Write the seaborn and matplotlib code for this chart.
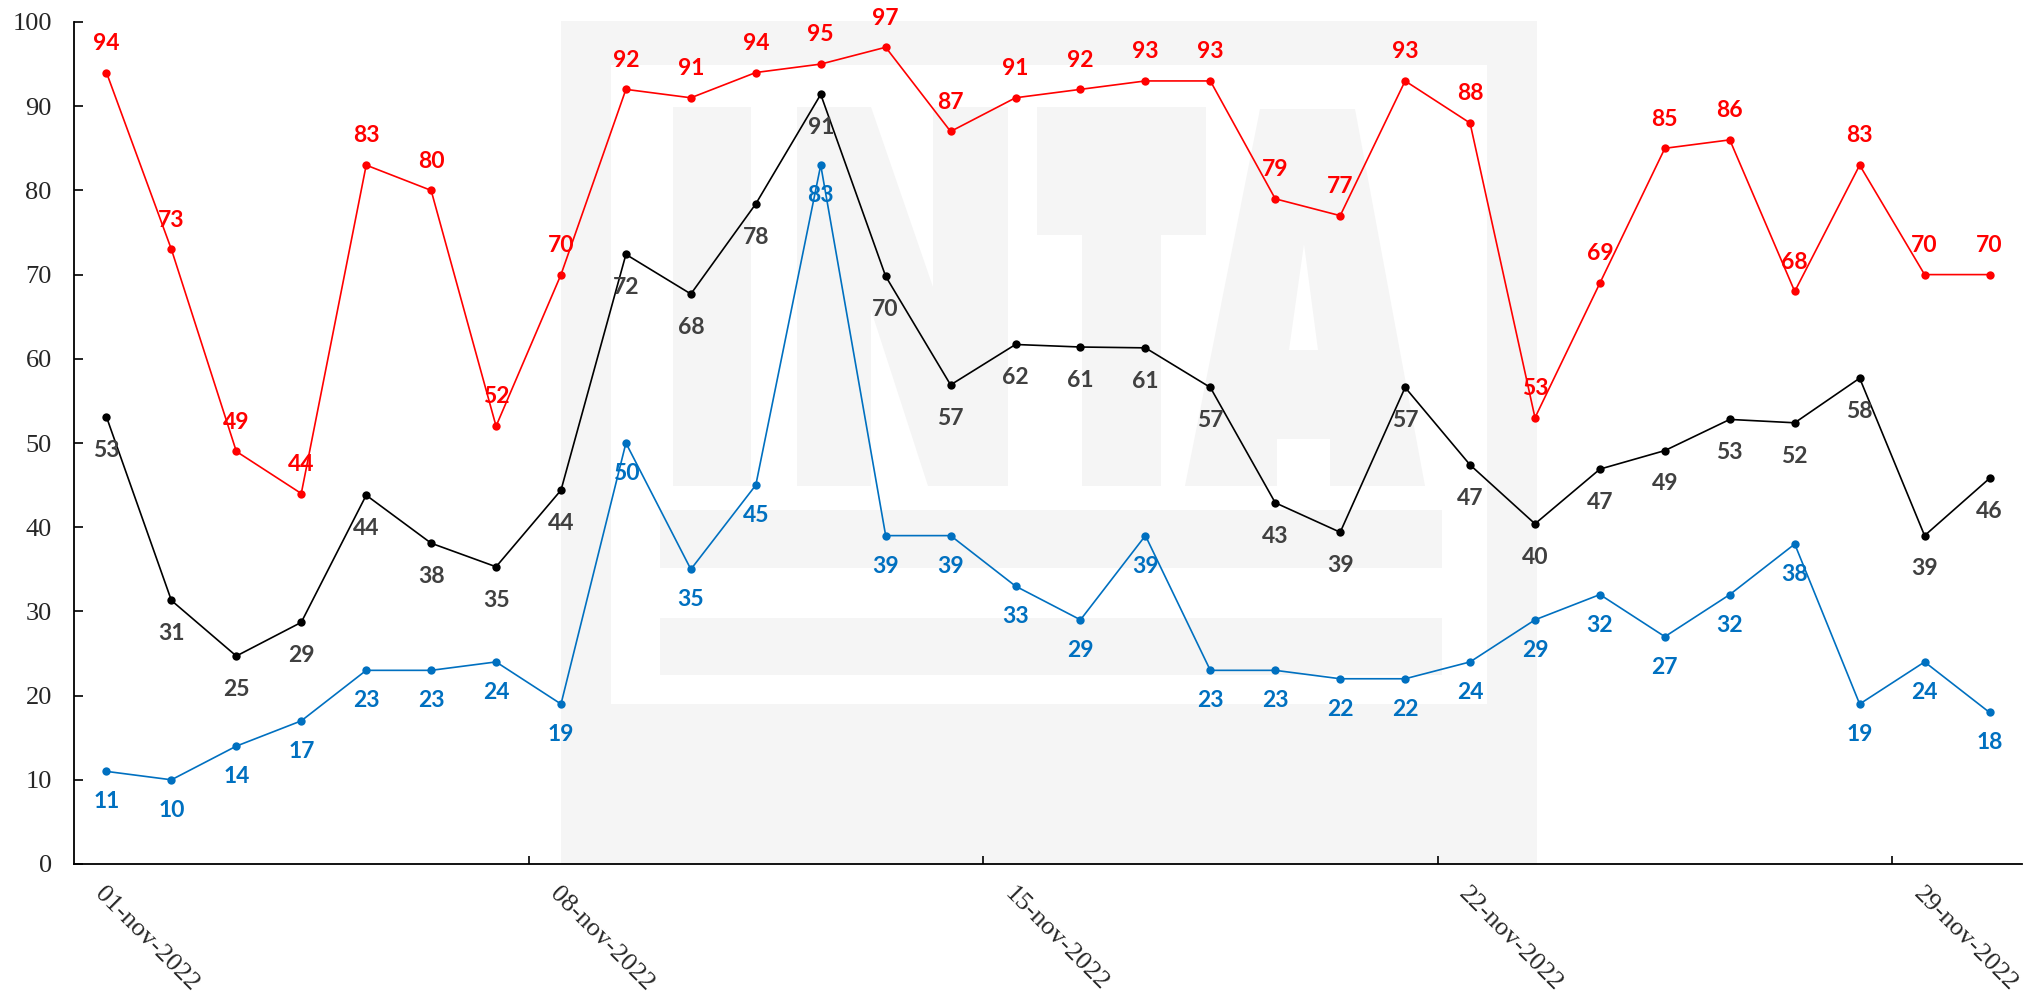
import pandas as pd
import matplotlib
matplotlib.use("Agg")
import matplotlib.pyplot as plt
from matplotlib.patches import Polygon
import seaborn as sns

# datos: temperatura / humedad diaria nov-2022
fechas = pd.date_range("2022-11-01", periods=30, freq="D")
maximo = [94, 73, 49, 44, 83, 80, 52, 70, 92, 91, 94, 95, 97, 87, 91,
          92, 93, 93, 79, 77, 93, 88, 53, 69, 85, 86, 68, 83, 70, 70]
medio = [53.1, 31.3, 24.7, 28.7, 43.8, 38.1, 35.3, 44.4, 72.4, 67.7, 78.4, 91.4, 69.8, 56.9, 61.7,
         61.4, 61.3, 56.6, 42.9, 39.4, 56.6, 47.4, 40.4, 46.9, 49.1, 52.8, 52.4, 57.7, 39.0, 45.8]
minimo = [11, 10, 14, 17, 23, 23, 24, 19, 50, 35, 45, 83, 39, 39, 33,
          29, 39, 23, 23, 22, 22, 24, 29, 32, 27, 32, 38, 19, 24, 18]
etiquetas_x = [f.strftime("%d-%b-%Y").lower() for f in fechas]

sns.set_style("white")
plt.rcParams["font.family"] = ["Liberation Serif", "DejaVu Serif"]

W, H = 2036, 994
fig = plt.figure(figsize=(W / 100, H / 100), dpi=100)
ax = fig.add_axes([74 / W, 1 - 864 / H, 1948 / W, 842 / H])
ax.patch.set_alpha(0)

# marca de agua (logo INTA) en pixeles de la figura
gris = "#F5F5F5"
def px(pts):
    return [(x / W, 1 - y / H) for x, y in pts]
def rect(x0, y0, x1, y1):
    return [(x0, y0), (x1, y0), (x1, y1), (x0, y1)]
formas = [
    (rect(561, 21, 1537, 864), gris),
    (rect(611, 65, 1487, 704), "white"),
    (rect(673, 107, 751, 486), gris),
    ([(797, 107), (871, 107), (933, 287), (933, 107), (1008, 107), (1008, 486),
      (928, 486), (871, 310), (871, 486), (797, 486)], gris),
    (rect(1037, 107, 1206, 235), gris),
    (rect(1082, 235, 1161, 486), gris),
    ([(1260, 109), (1355, 109), (1425, 486), (1330, 486), (1330, 439),
      (1277, 439), (1277, 486), (1185, 486)], gris),
    ([(1304, 244), (1318, 350), (1289, 350)], "white"),
    (rect(660, 510, 1442, 568), gris),
    (rect(660, 618, 1442, 675), gris),
]
for pts, c in formas:
    ax.add_patch(Polygon(px(pts), closed=True, facecolor=c, edgecolor="none",
                         transform=fig.transFigure, zorder=0.1, clip_on=False))

idx = list(range(len(fechas)))
series = [
    (maximo, "#FF0000", "#FF0000", 21),
    (medio, "#000000", "#404040", -24),
    (minimo, "#0070C0", "#0070C0", -22),
]
for vals, color, color_txt, off in series:
    sns.lineplot(x=idx, y=vals, ax=ax, color=color, linewidth=1.2, marker="o",
                 markersize=6, markeredgewidth=0, zorder=3)
    for i, v in zip(idx, vals):
        ax.annotate(f"{v:.0f}", (i, v), xytext=(0, off), textcoords="offset points",
                    ha="center", va="center", color=color_txt, fontsize=16.5,
                    fontweight="bold", family="Lato", zorder=4)

ax.set_xlim(-0.5, len(fechas) - 0.5)
ax.set_ylim(0, 100)
ax.set_yticks(range(0, 101, 10))
ax.set_xticks([6.5, 13.5, 20.5, 27.5])
ax.set_xticklabels([])
ax.set_xticks([0, 7, 14, 21, 28], minor=True)
ax.set_xticklabels([etiquetas_x[i] for i in [0, 7, 14, 21, 28]], minor=True,
                   rotation=-45, ha="left", va="top", rotation_mode="anchor",
                   fontsize=19)
ax.tick_params(axis="x", which="major", bottom=True, direction="in", length=6,
               width=1.2, color="black")
ax.tick_params(axis="x", which="minor", bottom=True, length=0, pad=14)
ax.tick_params(axis="y", left=True, direction="in", length=6.5, width=1.2,
               color="black", pad=16, labelsize=19)

for s in ["top", "right"]:
    ax.spines[s].set_visible(False)
for s in ["left", "bottom"]:
    ax.spines[s].set_color("black")
    ax.spines[s].set_linewidth(1.3)
ax.set_xlabel("")
ax.set_ylabel("")

fig.savefig("out.png", dpi=100)
